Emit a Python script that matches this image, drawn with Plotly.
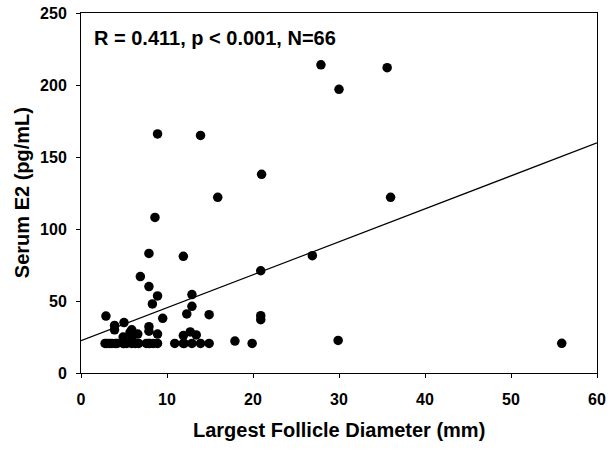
import numpy as np
import plotly.graph_objects as go

# ----------------------------
# Data
# ----------------------------

diameter_mm = [
    27.9, 35.6, 30.0, 8.9, 13.9, 21.0, 15.9, 36.0, 8.6, 7.9,
    11.9, 26.9, 20.9, 6.9, 7.9, 12.9, 8.9, 8.3, 12.9, 12.3,
    14.9, 20.9, 20.9, 9.5, 2.9, 5.0, 3.9, 7.9, 3.9, 5.9,
    7.9, 5.7, 12.7, 6.6, 8.9, 11.9, 13.4, 4.9, 5.9, 29.9,
    17.9, 55.9,
    2.8, 3.3, 3.6, 4.2, 4.9, 5.3, 5.9, 6.3, 6.7, 7.6,
    7.9, 8.4, 8.9, 10.9, 11.9, 12.9, 13.9, 14.9, 19.9,
    3.0, 4.0, 5.0, 8.0, 12.0,
]

serum_e2 = [
    214, 212, 197, 166, 165, 138, 122, 122, 108, 83,
    81, 81.5, 71, 67, 60, 54.5, 53.5, 48, 46.3, 41,
    40.5, 39.8, 37, 38, 39.5, 35, 33, 32.2, 30, 30,
    29, 28.2, 28.5, 27, 27, 26, 26.4, 25, 24.5, 22.6,
    22.2, 20.6,
    20.5, 20.5, 20.5, 20.5, 20.5, 20.5, 20.5, 20.5, 20.5, 20.5,
    20.5, 20.5, 20.5, 20.5, 20.5, 20.5, 20.5, 20.5, 20.5,
    20.5, 20.5, 20.5, 20.5, 20.5,
]

# regression line (as drawn)
fit_intercept = 22.4
fit_slope = 2.29
fit_x = np.array([0, 60])
fit_y = fit_intercept + fit_slope * fit_x

stats_text = "R = 0.411, p < 0.001, N=66"
x_title = "Largest Follicle Diameter (mm)"
y_title = "Serum E2 (pg/mL)"

x_ticks = [0, 10, 20, 30, 40, 50, 60]
y_ticks = [0, 50, 100, 150, 200, 250]

# ----------------------------
# Figure
# ----------------------------

fig = go.Figure()

fig.add_trace(go.Scatter(
    x=fit_x, y=fit_y,
    mode="lines",
    line=dict(color="black", width=1.2),
    hoverinfo="skip",
))

fig.add_trace(go.Scatter(
    x=diameter_mm, y=serum_e2,
    mode="markers",
    marker=dict(color="black", size=9.5, line=dict(width=0)),
))

FONT = "Liberation Sans, Arial"
tick_font = dict(family=FONT, size=16, color="black")
title_font = dict(family=FONT, size=20, color="black")

common_axis = dict(
    ticks="outside", ticklen=4, tickwidth=1, tickcolor="black",
    showline=True, linecolor="black", linewidth=1, mirror=True,
    showgrid=False, zeroline=False, automargin=False,
    tickfont=tick_font,
)

fig.update_layout(
    width=612, height=449,
    margin=dict(l=81, r=15, t=13, b=76),
    plot_bgcolor="white",
    paper_bgcolor="white",
    showlegend=False,
    xaxis=dict(
        range=[0, 60], tickvals=x_ticks,
        ticktext=[f"<b>{v}</b>" for v in x_ticks],
        ticklabelstandoff=8,
        **common_axis,
    ),
    yaxis=dict(
        range=[0, 250], tickvals=y_ticks,
        ticktext=[f"<b>{v}</b>" for v in y_ticks],
        ticklabelstandoff=6,
        **common_axis,
    ),
    annotations=[
        dict(
            text=f"<b>{stats_text}</b>",
            xref="paper", yref="paper",
            x=0.021, y=0.931,
            xanchor="left", yanchor="middle",
            showarrow=False,
            font=title_font,
        ),
        dict(
            text=f"<b>{x_title}</b>",
            xref="paper", yref="paper",
            x=0.5, y=-0.158,
            xanchor="center", yanchor="middle",
            showarrow=False,
            font=title_font,
        ),
        dict(
            text=f"<b>{y_title}</b>",
            xref="paper", yref="paper",
            x=-0.114, y=0.5,
            xanchor="center", yanchor="middle",
            textangle=-90,
            showarrow=False,
            font=title_font,
        ),
    ],
)

# page body margin would shift the figure by 8px
fig.write_html(
    "out.html",
    config={"displayModeBar": False},
    post_script="document.body.style.margin='0';",
)
